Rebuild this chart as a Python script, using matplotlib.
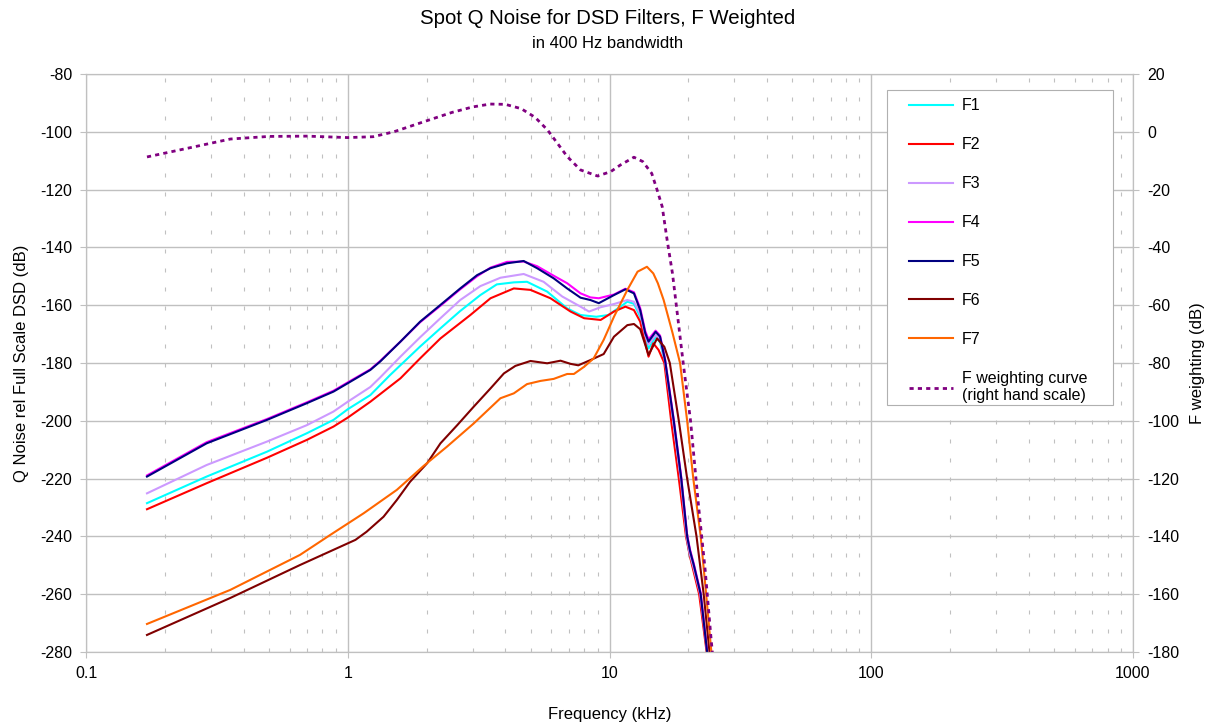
import numpy as np
import matplotlib
matplotlib.use("Agg")
import matplotlib.pyplot as plt
from matplotlib.patches import Rectangle

plt.rcParams['font.family'] = ['Liberation Sans', 'DejaVu Sans']
plt.rcParams['axes.unicode_minus'] = False

# spot noise per filter (dB rel full scale DSD), frequency in kHz
freq_1 = [0.171, 0.289, 0.491, 0.698, 0.882, 1.0, 1.22, 1.45, 1.89, 2.26, 2.69, 3.21, 3.71, 4.31,
          4.84, 5.78, 6.89, 7.75, 8.9, 9.9, 11.0, 11.7, 12.4, 13.1, 13.7, 14.1, 15.0, 15.6, 16.3,
          17.5, 18.7, 19.7, 20.2, 20.9, 22.2, 23.6, 25.0]
f1 = [-228.5, -219.3, -210.7, -204.3, -199.7, -196.0, -191.1, -184.2, -174.3, -168.0, -162.0,
      -156.5, -152.8, -152.1, -151.9, -155.3, -161.1, -163.4, -164.0, -163.4, -160.5, -158.8,
      -159.5, -164.0, -171.5, -175.0, -171.0, -172.8, -180.0, -200.5, -220.5, -240.5, -246.0,
      -251.0, -260.5, -280.5, -300.0]

freq_2 = [0.171, 0.289, 0.491, 0.698, 0.882, 1.0, 1.22, 1.59, 1.89, 2.26, 2.94, 3.51, 4.31, 4.99,
          5.95, 7.1, 8.0, 9.25, 10.4, 11.5, 12.4, 13.1, 14.1, 14.7, 15.4, 16.2, 17.2, 18.4, 19.6,
          20.3, 22.0, 23.5, 25.0]
f2 = [-230.6, -221.6, -212.8, -206.6, -202.0, -198.9, -193.4, -185.3, -178.4, -171.5, -163.4,
      -157.6, -154.2, -154.7, -157.6, -162.2, -164.5, -165.1, -162.2, -160.5, -161.7, -165.7,
      -177.8, -173.2, -175.5, -180.0, -200.0, -220.0, -240.0, -247.0, -260.0, -280.0, -300.0]

freq_3 = [0.171, 0.289, 0.491, 0.698, 0.882, 1.0, 1.22, 1.33, 1.59, 1.89, 2.26, 2.69, 3.21, 3.83,
          4.70, 5.6, 6.6, 7.75, 8.35, 9.25, 10.4, 11.7, 12.4, 13.1, 13.7, 14.1, 15.0, 15.6, 16.3,
          17.5, 18.7, 19.7, 20.2, 20.9, 22.2, 23.6, 25.0]
f3 = [-225.1, -215.3, -207.2, -201.5, -196.8, -193.4, -188.3, -185.0, -177.8, -171.1, -164.5,
      -158.2, -153.4, -150.5, -149.2, -151.9, -157.0, -160.5, -162.2, -160.7, -159.6, -158.2,
      -158.8, -163.0, -170.5, -173.5, -170.3, -172.0, -179.5, -200.0, -220.0, -240.0, -245.5,
      -250.5, -260.0, -280.0, -300.0]

freq_45 = [0.171, 0.289, 0.491, 0.698, 0.882, 1.0, 1.22, 1.33, 1.59, 1.89, 2.26, 2.69, 3.12,
           3.51, 4.06, 4.70, 5.29, 6.12, 6.89, 7.75, 8.45, 9.1, 10.4, 11.5, 12.4, 13.1, 13.7,
           14.1, 15.0, 15.6, 16.3, 17.6, 18.8, 19.8, 20.3, 21.0, 22.3, 23.6, 25.0]
f4 = [-218.9, -207.4, -199.4, -193.6, -189.6, -186.7, -182.2, -179.3, -172.6, -165.9, -160.2,
      -154.5, -150.0, -147.0, -145.0, -144.9, -146.5, -149.8, -152.4, -155.9, -157.3, -157.6,
      -156.3, -154.3, -155.5, -161.0, -169.0, -171.8, -168.8, -170.5, -178.5, -199.5, -219.5,
      -239.5, -244.5, -249.5, -259.5, -279.5, -299.5]
f5 = [-219.3, -207.8, -199.7, -193.9, -189.9, -187.0, -182.4, -179.5, -172.6, -165.7, -159.9,
      -154.2, -149.6, -147.2, -145.5, -144.7, -147.2, -150.7, -154.2, -157.4, -158.2, -159.3,
      -156.5, -154.5, -155.9, -161.7, -169.7, -172.6, -169.2, -170.9, -179.0, -200.0, -220.0,
      -240.0, -245.0, -250.0, -260.0, -280.0, -300.0]

freq_6 = [0.171, 0.356, 0.657, 1.07, 1.18, 1.37, 1.54, 1.73, 2.01, 2.26, 2.62, 3.03, 3.51, 3.95,
          4.37, 4.99, 5.78, 6.5, 7.1, 7.6, 8.45, 9.5, 10.4, 11.7, 12.4, 13.1, 14.1, 15.2, 16.2,
          17.0, 18.4, 19.8, 21.5, 22.9, 24.1, 25.0]
f6 = [-274.1, -261.3, -249.9, -241.2, -238.4, -233.2, -227.4, -221.1, -214.7, -207.8, -201.5,
      -195.1, -188.8, -183.6, -181.0, -179.3, -180.1, -179.2, -180.3, -180.8, -179.0, -176.9,
      -170.9, -166.9, -166.5, -168.3, -177.2, -171.5, -174.4, -180.0, -200.0, -220.0, -240.0,
      -260.0, -280.0, -293.0]

freq_7 = [0.171, 0.356, 0.657, 0.857, 1.15, 1.54, 1.95, 2.39, 3.03, 3.83, 4.31, 4.84, 5.45,
          6.12, 6.89, 7.31, 8.0, 8.7, 9.5, 10.4, 11.7, 12.8, 13.9, 14.7, 15.3, 16.1, 17.4, 18.6,
          19.8, 20.9, 22.3, 23.4, 24.5, 25.2]
f7 = [-270.3, -258.5, -246.4, -239.5, -232.0, -223.9, -215.6, -209.0, -200.9, -192.2, -190.5,
      -187.3, -186.2, -185.5, -183.8, -183.8, -181.3, -178.4, -172.0, -164.0, -154.7, -148.4,
      -146.7, -149.0, -152.4, -158.2, -169.5, -180.0, -200.0, -220.0, -240.0, -260.0, -280.0,
      -292.0]

# F weighting curve, right hand scale (dB)
freq_w = [0.171, 0.25, 0.356, 0.5, 0.7, 1.0, 1.25, 1.5, 2.0, 2.5, 3.0, 3.5, 4.0, 4.6, 5.2, 5.8,
          6.9, 7.75, 9.0, 10.1, 11.0, 12.4, 13.4, 14.5, 15.2, 15.9, 16.6, 17.4, 17.9, 19.2,
          20.4, 21.9, 23.2, 24.4, 25.0]
fw = [-8.7, -5.5, -2.5, -1.6, -1.5, -2.0, -1.7, 0.0, 3.8, 6.7, 8.6, 9.6, 9.5, 8.0, 5.0, 0.6,
      -8.6, -13.2, -15.3, -13.8, -11.5, -8.8, -10.3, -14.4, -20.1, -25.9, -37.4, -49.0, -58.2,
      -81.3, -100.0, -129.7, -151.6, -174.7, -185.0]

series = [
    ("F1", freq_1, f1, "#00ffff"),
    ("F2", freq_2, f2, "#ff0000"),
    ("F3", freq_3, f3, "#cc99ff"),
    ("F4", freq_45, f4, "#ff00ff"),
    ("F5", freq_45, f5, "#000080"),
    ("F6", freq_6, f6, "#800000"),
    ("F7", freq_7, f7, "#ff6600"),
]

fig = plt.figure(figsize=(12.15, 7.22), dpi=100)
ax = fig.add_axes([86 / 1215, 1 - 652 / 722, 1047 / 1215, 578 / 722])

grid_col = "#c0c0c0"
handles = []
for name, fx, fy, col in series:
    h, = ax.plot(fx, fy, color=col, lw=1.5, label=name)
    handles.append(h)

ax.set_xscale("log")
ax.set_xlim(0.1, 1000)
ax.set_ylim(-280, -80)
ax.set_yticks(np.arange(-280, -79, 20))
ax.set_xticks([0.1, 1, 10, 100, 1000])
ax.set_xticklabels(["0.1", "1", "10", "100", "1000"])
ax.grid(True, which="major", color=grid_col, lw=1.0)
ax.grid(True, which="minor", axis="x", color=grid_col, lw=0.8, linestyle=(0, (3.6, 13.5)))
ax.tick_params(which="major", direction="out", length=4, color=grid_col, labelsize=11.5, pad=6)
ax.tick_params(which="minor", length=0)
for s in ax.spines.values():
    s.set_color(grid_col)

ax2 = ax.twinx()
hw, = ax2.plot(freq_w, fw, color="#800080", lw=2.0, linestyle=(0, (1.5, 1.5)),
               label="F weighting curve\n(right hand scale)")
handles.append(hw)
ax2.set_ylim(-180, 20)
ax2.set_yticks(np.arange(-180, 21, 20))
ax2.tick_params(direction="out", length=4, color=grid_col, labelsize=11.5, pad=6)
for s in ax2.spines.values():
    s.set_color(grid_col)

ax.set_xlabel("Frequency (kHz)", fontsize=12, labelpad=19)
ax.set_ylabel("Q Noise rel Full Scale DSD (dB)", fontsize=12, labelpad=8)
ax2.set_ylabel("F weighting (dB)", fontsize=12, labelpad=8)

fig.text(0.5, 1 - 19 / 722, "Spot Q Noise for DSD Filters, F Weighted", ha="center",
         va="center", fontsize=14.7)
fig.text(0.5, 1 - 44 / 722, "in 400 Hz bandwidth", ha="center", va="center", fontsize=12)

# legend box drawn separately so its padding can be set freely
ax2.add_patch(Rectangle((0.765, 0.4273), 0.2159, 0.545, transform=ax2.transAxes,
                        facecolor="white", edgecolor="#b0b0b0", lw=0.8, zorder=4,
                        clip_on=False))
leg = ax2.legend(handles=handles, loc="upper left", bbox_to_anchor=(0.786, 0.958),
                 fontsize=11.5, handlelength=2.75, handletextpad=0.56, labelspacing=1.5,
                 borderpad=0, borderaxespad=0, frameon=False)
leg.set_zorder(5)

fig.savefig("out.png", dpi=100)
